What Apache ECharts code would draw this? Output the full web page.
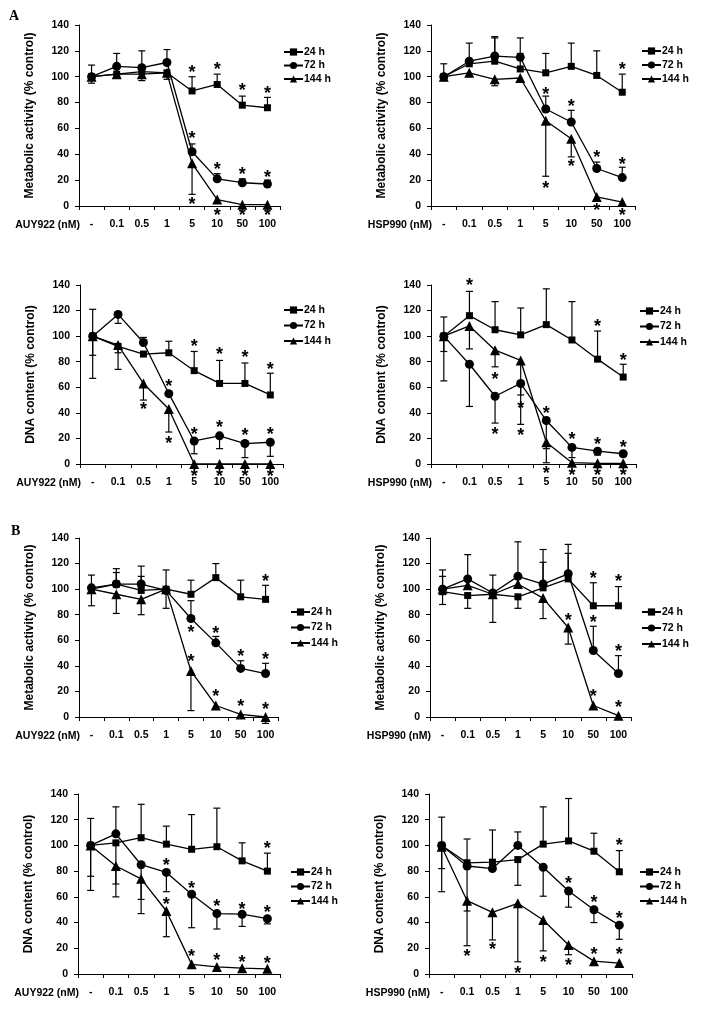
<!DOCTYPE html>
<html><head><meta charset="utf-8">
<script src="https://cdn.jsdelivr.net/npm/echarts@6/dist/echarts.min.js"></script>
<style>html,body{margin:0;padding:0;background:#fff}#c{width:708px;height:1014px}</style>
</head><body><div id="c"></div><script>
// ---------- DATA ----------
const categories = ['-', '0.1', '0.5', '1', '5', '10', '50', '100'];
const seriesNames = ['24 h', '72 h', '144 h'];
const yMin = 0, yMax = 140, yStep = 20;
const metabName = 'Metabolic activity (% control)';
const dnaName = 'DNA content (% control)';
const auyName = 'AUY922 (nM)';
const hspName = 'HSP990 (nM)';

// Panel A1 (metabolic, AUY922)
const a1_24 = [100, 102, 104, 103, 89, 94, 78, 76];
const a1_72 = [100, 108, 107, 111, 42, 21, 18, 17];
const a1_144 = [100, 102, 102, 103, 33, 5, 1, 1];
const a1_err24 = [9, 0, 0, 0, 11, 8, 7, 8];
const a1_err72 = [0, 10, 13, 10, 6, 4, 3, 3];
const a1_err144 = [-5, -2, -5, -5, -24, 0, 0, 0];
const a1_star24 = [null, null, null, null, 106, 108, 92, 90];
const a1_star72 = [null, null, null, null, 55, 31, 27, 25];
const a1_star144 = [null, null, null, null, 4, -4.5, -4.5, -4.5];

// Panel A2 (metabolic, HSP990)
const a2_24 = [100, 110, 112, 106, 103, 108, 101, 88];
const a2_72 = [100, 112, 116, 115, 75, 65, 29, 22];
const a2_144 = [100, 103, 98, 99, 66, 52, 7, 3];
const a2_err24 = [10, 0, 18, 12, 15, 18, 19, 14];
const a2_err72 = [0, 14, 15, 15, 10, 9, 5, 8];
const a2_err144 = [-3, 0, -5, -3, -43, -14, 0, 0];
const a2_star24 = [null, null, null, null, null, null, null, 108];
const a2_star72 = [null, null, null, null, 89, 80, 40, 35];
const a2_star144 = [null, null, null, null, 16, 33, -1, -5];

// Panel A3 (DNA, AUY922)
const a3_24 = [100, 92, 86, 87, 73, 63, 63, 54];
const a3_72 = [100, 117, 95, 55, 18, 22, 16, 17];
const a3_144 = [100, 93, 63, 43, 0, 0, 0, 0];
const a3_err24 = [21, -5, 0, 9, 15, 18, 16, 17];
const a3_err72 = [-15, -7, 4, 0, -10, -10, -11, -11];
const a3_err144 = [-33, -19, -13, -18, 0, 0, 0, 0];
const a3_star24 = [null, null, null, null, 95, 88, 86, 77];
const a3_star72 = [null, null, null, 63, 26, 31, 25, 26];
const a3_star144 = [null, null, 45, 19, -7, -7, -7, -7];

// Panel A4 (DNA, HSP990)
const a4_24 = [100, 116, 105, 101, 109, 97, 82, 68];
const a4_72 = [100, 78, 53, 63, 34, 13, 10, 8];
const a4_144 = [100, 108, 89, 81, 17, 1, 0.5, 0.5];
const a4_err24 = [15, 19, 22, 21, 28, 30, 22, 10];
const a4_err72 = [-35, -33, -21, -32, -22, -8, -3, -2];
const a4_err144 = [-12, -18, -13, -27, -16, 0, 0, 0];
const a4_star24 = [null, 142, null, null, null, null, 110, 84];
const a4_star72 = [null, null, 26, 25, 42, 22, 18, 16];
const a4_star144 = [null, null, 69, 46, -5, -6, -6, -6];

// Panel B1 (metabolic, AUY922)
const b1_24 = [100, 104, 99, 100, 96, 109, 94, 92];
const b1_72 = [101, 104, 104, 99, 77, 58, 38, 34];
const b1_144 = [100, 96, 92, 100, 36, 9, 2, 0];
const b1_err24 = [11, 9, 11, 15, 11, 11, 13, 11];
const b1_err72 = [0, 12, 14, -14, 14, 5, 6, 8];
const b1_err144 = [-13, -15, -12, 0, -31, 0, 0, -5];
const b1_star24 = [null, null, null, null, null, null, null, 109];
const b1_star72 = [null, null, null, null, 69, 68, 50, 48];
const b1_star144 = [null, null, null, null, 46, 19, 11, 8.5];

// Panel B2 (metabolic, HSP990)
const b2_24 = [98, 95, 96, 94, 101, 108, 87, 87];
const b2_72 = [100, 108, 97, 110, 104, 112, 52, 34];
const b2_144 = [100, 103, 96, 104, 93, 70, 9, 1];
const b2_err24 = [12, -10, 0, -9, 20, 20, 18, 15];
const b2_err72 = [15, 19, 14, 27, 27, 23, 19, 14];
const b2_err144 = [-12, 0, -22, 0, -16, -13, 0, 0];
const b2_star24 = [null, null, null, null, null, null, 111, 109];
const b2_star72 = [null, null, null, null, null, null, 77, 54];
const b2_star144 = [null, null, null, null, null, 78, 19, 10.5];

// Panel B3 (DNA, AUY922)
const b3_24 = [100, 102, 106, 101, 97, 99, 88, 80];
const b3_72 = [100, 109, 85, 79, 62, 47, 46.5, 43];
const b3_144 = [100, 84, 74, 49, 7.5, 5.5, 4.5, 4];
const b3_err24 = [21, -32, 26, 14, 27, 30, 14, 14];
const b3_err72 = [-24, 21, -27, -15, -26, -12, -9.5, -4];
const b3_err144 = [-35, -24, -27, -20, 0, 0, 0, 0];
const b3_star24 = [null, null, null, null, null, null, null, 100];
const b3_star72 = [null, null, null, 87, 69.5, 55, 53, 50.5];
const b3_star144 = [null, null, null, 56.5, 16.6, 13, 11.4, 11];

// Panel B4 (DNA, HSP990)
const b4_24 = [100, 86.5, 87, 89, 101, 103.5, 95.5, 79.5];
const b4_72 = [100, 84, 82, 100, 83, 64.5, 50, 38];
const b4_144 = [99, 57, 48, 55, 42, 22.5, 10, 8.5];
const b4_err24 = [22, 18.5, 25, -20, 29, 33, 14, 16.5];
const b4_err72 = [-18, -35, 0, 10.5, -22.5, -12.5, -10, -11];
const b4_err144 = [-35, -35, -21.5, -45.5, -24, -7.5, 0, -3];
const b4_star24 = [null, null, null, null, null, null, null, 103];
const b4_star72 = [null, null, null, null, null, 73, 58, 46];
const b4_star144 = [null, 16, 21.5, 3.4, 11.7, 9.6, 17.6, 17.6];

const panels = [
  {yName: metabName, xName: auyName, vals: [a1_24, a1_72, a1_144], errs: [a1_err24, a1_err72, a1_err144], stars: [a1_star24, a1_star72, a1_star144]},
  {yName: metabName, xName: hspName, vals: [a2_24, a2_72, a2_144], errs: [a2_err24, a2_err72, a2_err144], stars: [a2_star24, a2_star72, a2_star144]},
  {yName: dnaName, xName: auyName, vals: [a3_24, a3_72, a3_144], errs: [a3_err24, a3_err72, a3_err144], stars: [a3_star24, a3_star72, a3_star144]},
  {yName: dnaName, xName: hspName, vals: [a4_24, a4_72, a4_144], errs: [a4_err24, a4_err72, a4_err144], stars: [a4_star24, a4_star72, a4_star144]},
  {yName: metabName, xName: auyName, vals: [b1_24, b1_72, b1_144], errs: [b1_err24, b1_err72, b1_err144], stars: [b1_star24, b1_star72, b1_star144]},
  {yName: metabName, xName: hspName, vals: [b2_24, b2_72, b2_144], errs: [b2_err24, b2_err72, b2_err144], stars: [b2_star24, b2_star72, b2_star144]},
  {yName: dnaName, xName: auyName, vals: [b3_24, b3_72, b3_144], errs: [b3_err24, b3_err72, b3_err144], stars: [b3_star24, b3_star72, b3_star144]},
  {yName: dnaName, xName: hspName, vals: [b4_24, b4_72, b4_144], errs: [b4_err24, b4_err72, b4_err144], stars: [b4_star24, b4_star72, b4_star144]}
];

// ---------- LAYOUT / STYLE ----------
const layout = [
  {left: 79, top: 25, width: 201, height: 181, lgLeft: 283, lgTop: 46, lgGap: 1.5},
  {left: 431, top: 25, width: 204, height: 181, lgLeft: 641, lgTop: 45, lgGap: 2},
  {left: 80, top: 285, width: 203, height: 179, lgLeft: 283, lgTop: 304, lgGap: 3.5},
  {left: 431, top: 285, width: 205, height: 179, lgLeft: 639, lgTop: 305, lgGap: 3.5},
  {left: 79, top: 538, width: 199, height: 179, lgLeft: 290, lgTop: 606, lgGap: 3.5},
  {left: 430, top: 538, width: 201, height: 179, lgLeft: 641, lgTop: 606, lgGap: 4},
  {left: 78, top: 794, width: 202, height: 180, lgLeft: 290, lgTop: 866, lgGap: 2.5},
  {left: 429, top: 794, width: 203, height: 180, lgLeft: 639, lgTop: 866, lgGap: 2.5}
];
const FONT = '"Liberation Sans", Arial, sans-serif';
const symbols = ['rect', 'circle', 'triangle'];
const symbolSizes = [7, 9, 10];

const grid = [], xAxis = [], yAxis = [], series = [], legend = [], graphic = [];

graphic.push({type: 'text', left: 9, top: 9, style: {text: 'A', font: 'bold 14px "Liberation Serif", serif', fill: '#000'}});
graphic.push({type: 'text', left: 11, top: 524, style: {text: 'B', font: 'bold 14px "Liberation Serif", serif', fill: '#000'}});

panels.forEach((p, i) => {
  const L = layout[i];
  grid.push({left: L.left, top: L.top, width: L.width, height: L.height, containLabel: false, outerBoundsMode: 'none'});
  xAxis.push({
    type: 'category', gridIndex: i, data: categories, boundaryGap: true,
    axisLine: {show: true, onZero: false, lineStyle: {color: '#000', width: 1}},
    axisTick: {show: true, length: 4, lineStyle: {color: '#000'}},
    axisLabel: {margin: 13, fontSize: 10.5, fontWeight: 'bold', color: '#000', fontFamily: FONT, interval: 0},
    splitLine: {show: false}
  });
  yAxis.push({
    type: 'value', gridIndex: i, min: yMin, max: yMax, interval: yStep,
    axisLine: {show: true, lineStyle: {color: '#000', width: 1}},
    axisTick: {show: true, length: 4, lineStyle: {color: '#000'}},
    axisLabel: {margin: 10, fontSize: 10.5, fontWeight: 'bold', color: '#000', fontFamily: FONT},
    splitLine: {show: false},
    name: p.yName, nameLocation: 'middle', nameGap: 43,
    nameTextStyle: {fontSize: 12, fontWeight: 'bold', color: '#000', fontFamily: FONT}
  });
  legend.push({
    orient: 'vertical', left: L.lgLeft, top: L.lgTop, itemWidth: 19, itemHeight: 9, itemGap: L.lgGap,
    padding: 0, selectedMode: false, data: seriesNames,
    textStyle: {fontSize: 10.5, fontWeight: 'bold', color: '#000', fontFamily: FONT, lineHeight: 12, padding: [0, 0, 0, -4]}
  });
  graphic.push({
    type: 'text', x: L.left + 1, y: L.top + L.height + 19,
    style: {text: p.xName, font: 'bold 10.5px ' + FONT, fill: '#000', align: 'right', verticalAlign: 'middle'}
  });
  for (let s = 0; s < 3; s++) {
    const vals = p.vals[s], errs = p.errs[s], stars = p.stars[s];
    series.push({
      type: 'custom', xAxisIndex: i, yAxisIndex: i, z: 2, clip: false, silent: true,
      encode: {x: 0, y: 1},
      data: categories.map((c, k) => [k, vals[k], errs[k], stars[k] == null ? NaN : stars[k]]),
      renderItem: (params, api) => {
        const x = api.value(0), v = api.value(1), e = api.value(2), st = api.value(3);
        const pt = api.coord([x, v]);
        const children = [];
        if (e) {
          const q = api.coord([x, v + e]);
          children.push({type: 'line', shape: {x1: pt[0], y1: pt[1], x2: q[0], y2: q[1]}, style: {stroke: '#000', lineWidth: 1.2}});
          children.push({type: 'line', shape: {x1: q[0] - 3.5, y1: q[1], x2: q[0] + 3.5, y2: q[1]}, style: {stroke: '#000', lineWidth: 1.2}});
        }
        if (!isNaN(st)) {
          const sp = api.coord([x, st]);
          children.push({type: 'text', x: sp[0], y: sp[1] + 4, style: {text: '*', font: 'bold 18px ' + FONT, fill: '#000', align: 'center', verticalAlign: 'middle'}});
        }
        return {type: 'group', children};
      }
    });
    series.push({
      type: 'line', name: seriesNames[s], xAxisIndex: i, yAxisIndex: i, z: 5,
      data: vals, symbol: symbols[s], symbolSize: symbolSizes[s], showAllSymbol: true,
      itemStyle: {color: '#000'}, lineStyle: {color: '#000', width: 1.3}, emphasis: {disabled: true}
    });
  }
});

const chart = echarts.init(document.getElementById('c'), null, {renderer: 'canvas'});
chart.setOption({animation: false, backgroundColor: '#fff', textStyle: {fontFamily: FONT}, grid, xAxis, yAxis, legend, series, graphic});
</script></body></html>
